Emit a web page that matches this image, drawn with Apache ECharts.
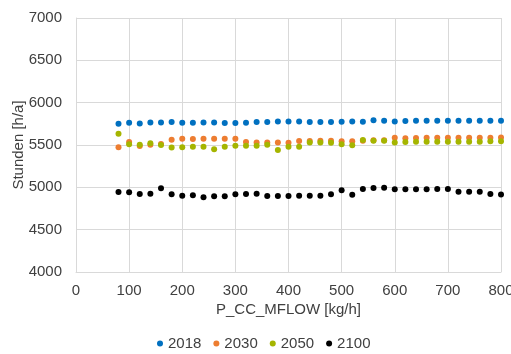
<!DOCTYPE html>
<html>
<head>
<meta charset="utf-8">
<script src="https://cdn.jsdelivr.net/npm/echarts@6/dist/echarts.min.js"></script>
<style>html,body{margin:0;padding:0;background:#fff}#c{width:511px;height:354px}</style>
</head>
<body>
<div id="c"></div>
<script>
const flows = [80,100,120,140,160,180,200,220,240,260,280,300,320,340,360,380,400,420,440,460,480,500,520,540,560,580,600,620,640,660,680,700,720,740,760,780,800];
const s2018 = [5752,5763,5755,5767,5767,5771,5763,5763,5767,5765,5759,5759,5763,5771,5771,5779,5779,5779,5771,5771,5771,5775,5777,5775,5791,5787,5779,5783,5787,5787,5787,5787,5787,5787,5787,5787,5787];
const s2030 = [5472,5535,5488,5504,5512,5563,5575,5571,5575,5575,5575,5575,5535,5531,5531,5531,5528,5547,5547,5551,5551,5543,5545,5550,5555,5555,5586,5579,5583,5586,5586,5586,5586,5586,5586,5586,5590];
const s2050 = [5634,5508,5504,5520,5500,5469,5472,5480,5480,5449,5480,5492,5492,5492,5504,5441,5480,5480,5531,5531,5528,5508,5498,5559,5551,5551,5531,5535,5539,5539,5539,5539,5539,5539,5539,5543,5543];
const s2100 = [4945,4941,4921,4925,4988,4917,4902,4906,4882,4894,4894,4917,4921,4925,4898,4898,4898,4902,4902,4902,4917,4965,4912,4980,4992,4996,4976,4976,4976,4976,4980,4980,4949,4949,4949,4921,4914];
const seriesNames = ['2018','2030','2050','2100'];
const seriesColors = ['#0070c0','#ed7d31','#a5b500','#000000'];
const allData = [s2018, s2030, s2050, s2100];

const font = 'Liberation Sans, Arial, sans-serif';
const fs = 15;
const chart = echarts.init(document.getElementById('c'), null, {renderer:'canvas'});
chart.setOption({
  animation: false,
  backgroundColor: '#fff',
  grid: {left: 76, right: 10, top: 18, bottom: 82, containLabel: false, outerBoundsMode: 'none'},
  xAxis: {
    type: 'value', min: 0, max: 800, interval: 100,
    name: 'P_CC_MFLOW [kg/h]', nameLocation: 'middle', nameGap: 30, nameMoveOverlap: false,
    nameTextStyle: {fontFamily: font, fontSize: fs, color: '#404040'},
    axisLine: {show: true, lineStyle: {color: '#d9d9d9'}},
    axisTick: {show: false},
    axisLabel: {fontFamily: font, fontSize: fs, color: '#404040', margin: 11, formatter: v => String(v)},
    splitLine: {show: true, lineStyle: {color: '#d9d9d9'}}
  },
  yAxis: {
    type: 'value', min: 4000, max: 7000, interval: 500,
    name: 'Stunden [h/a]', nameLocation: 'middle', nameGap: 50, nameRotate: 90, nameMoveOverlap: false,
    nameTextStyle: {fontFamily: font, fontSize: fs, color: '#404040'},
    axisLine: {show: true, lineStyle: {color: '#d9d9d9'}},
    axisTick: {show: false},
    axisLabel: {fontFamily: font, fontSize: fs, color: '#404040', margin: 14, formatter: v => String(v)},
    splitLine: {show: true, lineStyle: {color: '#d9d9d9'}}
  },
  legend: {
    bottom: -2, left: 152,
    icon: 'circle', itemWidth: 6, itemHeight: 6, itemGap: 12,
    textStyle: {fontFamily: font, fontSize: fs, color: '#404040'},
    data: seriesNames
  },
  series: seriesNames.map((n, i) => ({
    name: n, type: 'scatter', symbol: 'circle', symbolSize: 6,
    itemStyle: {color: seriesColors[i], opacity: 1},
    data: flows.map((f, j) => [f, allData[i][j]])
  }))
});
</script>
</body>
</html>
